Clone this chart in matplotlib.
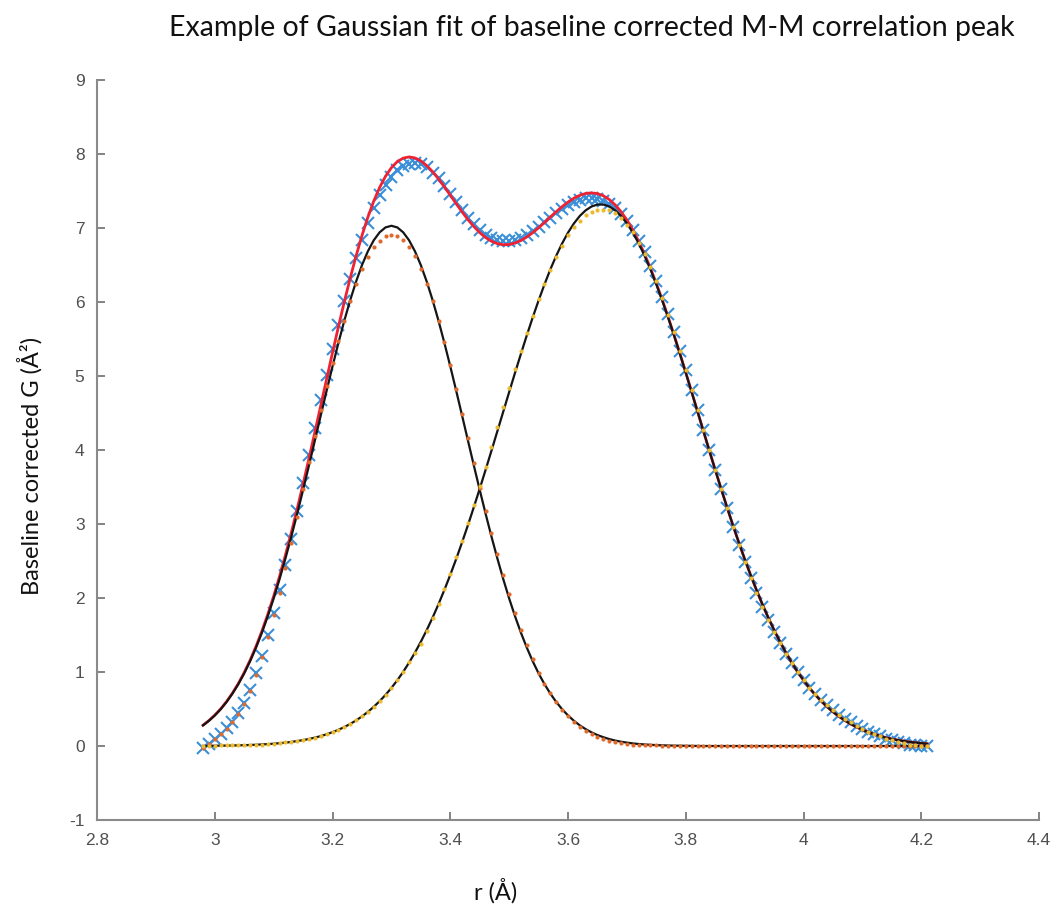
import numpy as np
import matplotlib
matplotlib.use("Agg")
import matplotlib.pyplot as plt

plt.rcParams["axes.unicode_minus"] = False

# sampling grid of the measured G(r) (step 0.01 A)
r = np.round(np.arange(2.98, 4.215, 0.01), 2)

# baseline corrected data (blue crosses)
g_data = [
    -0.03, 0.03, 0.09, 0.16, 0.24, 0.33, 0.44, 0.58, 0.76, 0.98,
    1.22, 1.50, 1.80, 2.11, 2.45, 2.80, 3.17, 3.55, 3.93, 4.30,
    4.67, 5.02, 5.36, 5.69, 6.01, 6.31, 6.59, 6.84, 7.07, 7.27,
    7.44, 7.58, 7.69, 7.78, 7.84, 7.87, 7.88, 7.86, 7.82, 7.75,
    7.67, 7.57, 7.46, 7.35, 7.24, 7.14, 7.05, 6.97, 6.91, 6.87,
    6.84, 6.83, 6.83, 6.84, 6.87, 6.91, 6.96, 7.02, 7.08, 7.14,
    7.20, 7.26, 7.31, 7.35, 7.38, 7.40, 7.40, 7.39, 7.37, 7.33,
    7.27, 7.19, 7.09, 6.97, 6.83, 6.67, 6.49, 6.29, 6.07, 5.84,
    5.59, 5.34, 5.08, 4.81, 4.54, 4.27, 4.00, 3.73, 3.47, 3.21,
    2.96, 2.72, 2.49, 2.27, 2.07, 1.88, 1.70, 1.54, 1.39, 1.25,
    1.12, 1.00, 0.89, 0.79, 0.70, 0.62, 0.55, 0.48, 0.42, 0.37,
    0.32, 0.27, 0.23, 0.19, 0.16, 0.13, 0.10, 0.08, 0.06, 0.04,
    0.02, 0.01, 0.00, 0.00,
]

# first peak points (orange dots)
g_peak1 = [
    -0.03, 0.03, 0.09, 0.16, 0.23, 0.32, 0.43, 0.57, 0.75, 0.96,
    1.20, 1.47, 1.77, 2.07, 2.40, 2.75, 3.10, 3.47, 3.84, 4.19,
    4.54, 4.86, 5.17, 5.47, 5.75, 6.01, 6.24, 6.44, 6.61, 6.74,
    6.83, 6.89, 6.91, 6.89, 6.84, 6.74, 6.62, 6.45, 6.25, 6.01,
    5.75, 5.46, 5.15, 4.82, 4.49, 4.16, 3.82, 3.49, 3.18, 2.88,
    2.59, 2.31, 2.05, 1.80, 1.57, 1.36, 1.17, 0.99, 0.84, 0.71,
    0.59, 0.49, 0.40, 0.33, 0.26, 0.20, 0.16, 0.12, 0.09, 0.07,
    0.05, 0.04, 0.03, 0.02, 0.02, 0.01, 0.01, 0.01, 0.00, 0.00,
    0.00, 0.00, 0.00, 0.00, 0.00, 0.00, 0.00, 0.00, 0.00, 0.00,
    0.00, 0.00, 0.00, 0.00, 0.00, 0.00, 0.00, 0.00, 0.00, 0.00,
    0.00, 0.00, 0.00, 0.00, 0.00, 0.00, 0.00, 0.00, 0.00, 0.00,
    0.00, 0.00, 0.00, 0.00, 0.00, 0.00, 0.00, 0.00, 0.00, 0.00,
    0.00, 0.00, 0.00, 0.00,
]

# second peak points (yellow dots)
g_peak2 = [
    0.00, 0.00, 0.00, 0.01, 0.01, 0.01, 0.01, 0.01, 0.01, 0.02,
    0.02, 0.03, 0.03, 0.04, 0.05, 0.06, 0.07, 0.08, 0.10, 0.11,
    0.13, 0.16, 0.19, 0.22, 0.26, 0.30, 0.35, 0.40, 0.46, 0.53,
    0.61, 0.69, 0.79, 0.89, 1.00, 1.13, 1.26, 1.38, 1.55, 1.73,
    1.92, 2.12, 2.33, 2.55, 2.77, 3.01, 3.26, 3.51, 3.77, 4.04,
    4.31, 4.58, 4.84, 5.09, 5.34, 5.58, 5.81, 6.04, 6.24, 6.43,
    6.61, 6.76, 6.90, 7.01, 7.10, 7.17, 7.22, 7.24, 7.25, 7.24,
    7.20, 7.13, 7.04, 6.94, 6.80, 6.65, 6.47, 6.28, 6.06, 5.83,
    5.59, 5.34, 5.08, 4.81, 4.54, 4.27, 4.00, 3.73, 3.47, 3.21,
    2.96, 2.72, 2.49, 2.27, 2.07, 1.88, 1.70, 1.54, 1.39, 1.25,
    1.12, 1.00, 0.89, 0.79, 0.70, 0.62, 0.55, 0.48, 0.42, 0.37,
    0.32, 0.27, 0.23, 0.19, 0.16, 0.13, 0.10, 0.08, 0.06, 0.04,
    0.02, 0.01, 0.00, 0.00,
]

# Gaussian fit of peak 1 (black)
fit1 = [
    0.279, 0.341, 0.413, 0.497, 0.595, 0.708, 0.836, 0.982, 1.146, 1.329,
    1.531, 1.753, 1.994, 2.255, 2.534, 2.829, 3.139, 3.461, 3.792, 4.128,
    4.467, 4.802, 5.131, 5.447, 5.747, 6.025, 6.276, 6.498, 6.685, 6.834,
    6.942, 7.008, 7.030, 7.008, 6.942, 6.834, 6.685, 6.498, 6.276, 6.025,
    5.747, 5.447, 5.131, 4.802, 4.467, 4.128, 3.792, 3.461, 3.139, 2.829,
    2.534, 2.255, 1.994, 1.753, 1.531, 1.329, 1.146, 0.982, 0.836, 0.708,
    0.595, 0.497, 0.413, 0.341, 0.279, 0.228, 0.184, 0.148, 0.119, 0.094,
    0.074, 0.058, 0.046, 0.035, 0.027, 0.021, 0.016, 0.012, 0.009, 0.007,
    0.005, 0.004, 0.003, 0.002, 0.001, 0.000, 0.000, 0.000, 0.000, 0.000,
    0.000, 0.000, 0.000, 0.000, 0.000, 0.000, 0.000, 0.000, 0.000, 0.000,
    0.000, 0.000, 0.000, 0.000, 0.000, 0.000, 0.000, 0.000, 0.000, 0.000,
    0.000, 0.000, 0.000, 0.000, 0.000, 0.000, 0.000, 0.000, 0.000, 0.000,
    0.000, 0.000, 0.000, 0.000,
]

# Gaussian fit of peak 2 (black)
fit2 = [
    0.002, 0.003, 0.004, 0.005, 0.006, 0.007, 0.009, 0.011, 0.014, 0.017,
    0.021, 0.026, 0.031, 0.038, 0.046, 0.055, 0.067, 0.080, 0.095, 0.113,
    0.134, 0.159, 0.187, 0.219, 0.256, 0.298, 0.346, 0.400, 0.461, 0.530,
    0.606, 0.691, 0.785, 0.889, 1.002, 1.127, 1.262, 1.409, 1.567, 1.736,
    1.917, 2.110, 2.313, 2.527, 2.752, 2.985, 3.228, 3.477, 3.732, 3.992,
    4.255, 4.519, 4.783, 5.044, 5.300, 5.550, 5.791, 6.021, 6.238, 6.441,
    6.626, 6.792, 6.938, 7.062, 7.163, 7.239, 7.291, 7.317, 7.317, 7.291,
    7.239, 7.163, 7.062, 6.938, 6.792, 6.626, 6.441, 6.238, 6.021, 5.791,
    5.550, 5.300, 5.044, 4.783, 4.519, 4.255, 3.992, 3.732, 3.477, 3.228,
    2.985, 2.752, 2.527, 2.313, 2.110, 1.917, 1.736, 1.567, 1.409, 1.262,
    1.127, 1.002, 0.889, 0.785, 0.691, 0.606, 0.530, 0.461, 0.400, 0.346,
    0.298, 0.256, 0.219, 0.187, 0.159, 0.134, 0.113, 0.095, 0.080, 0.067,
    0.055, 0.046, 0.038, 0.031,
]

# total fit (red)
fit_total = [
    0.281, 0.344, 0.417, 0.502, 0.601, 0.715, 0.845, 0.993, 1.160, 1.346,
    1.552, 1.779, 2.025, 2.293, 2.580, 2.884, 3.206, 3.541, 3.887, 4.241,
    4.601, 4.961, 5.318, 5.666, 6.003, 6.323, 6.622, 6.898, 7.146, 7.364,
    7.548, 7.699, 7.815, 7.897, 7.944, 7.961, 7.947, 7.907, 7.843, 7.761,
    7.664, 7.557, 7.444, 7.329, 7.219, 7.113, 7.020, 6.938, 6.871, 6.821,
    6.789, 6.774, 6.777, 6.797, 6.831, 6.879, 6.937, 7.003, 7.074, 7.149,
    7.221, 7.289, 7.351, 7.403, 7.442, 7.467, 7.475, 7.465, 7.436, 7.385,
    7.313, 7.221, 7.108, 6.973, 6.819, 6.647, 6.457, 6.250, 6.030, 5.798,
    5.555, 5.304, 5.047, 4.785, 4.520, 4.255, 3.992, 3.732, 3.477, 3.228,
    2.985, 2.752, 2.527, 2.313, 2.110, 1.917, 1.736, 1.567, 1.409, 1.262,
    1.127, 1.002, 0.889, 0.785, 0.691, 0.606, 0.530, 0.461, 0.400, 0.346,
    0.298, 0.256, 0.219, 0.187, 0.159, 0.134, 0.113, 0.095, 0.080, 0.067,
    0.055, 0.046, 0.038, 0.031,
]

x_ticks = [2.8, 3, 3.2, 3.4, 3.6, 3.8, 4, 4.2, 4.4]
x_tick_labels = ["2.8", "3", "3.2", "3.4", "3.6", "3.8", "4", "4.2", "4.4"]
y_ticks = list(range(-1, 10))

label_font = ["Lato", "DejaVu Sans"]
tick_font = ["Liberation Sans", "DejaVu Sans"]

fig = plt.figure(figsize=(10.57, 9.05), dpi=100)
ax = fig.add_axes([0.0918, 0.0939, 0.8912, 0.8177])

ax.plot(r, g_data, linestyle="none", marker="x", markersize=8, mew=1.5,
        color="#3a8fd8", zorder=2)
ax.plot(r, fit_total, color="#ee2233", lw=2.0, zorder=3)
ax.plot(r, fit1, color="#151515", lw=1.6, zorder=4)
ax.plot(r, fit2, color="#151515", lw=1.6, zorder=4)
ax.plot(r, g_peak1, linestyle="none", marker="o", markersize=3, mew=0,
        color="#e06a2c", zorder=5)
ax.plot(r, g_peak2, linestyle="none", marker="o", markersize=3, mew=0,
        color="#ecba2e", zorder=5)

ax.set_xlim(2.8, 4.4)
ax.set_ylim(-1, 9)
ax.set_xticks(x_ticks)
ax.set_xticklabels(x_tick_labels)
ax.set_yticks(y_ticks)

for side in ["top", "right"]:
    ax.spines[side].set_visible(False)
for side in ["left", "bottom"]:
    ax.spines[side].set_color("#8a8a8a")
    ax.spines[side].set_linewidth(1.5)
ax.tick_params(direction="in", length=6, width=1.3, color="#7a7a7a",
               labelcolor="#505050", labelsize=12.5, pad=9)
for lab in ax.get_xticklabels() + ax.get_yticklabels():
    lab.set_family(tick_font)

ax.set_xlabel("r (Å)", fontsize=17, family=label_font, color="#111111",
              va="center", ha="center")
ax.xaxis.set_label_coords(0.4236, -0.096)
ax.set_ylabel("Baseline corrected G (Å²)", fontsize=17, family=label_font,
              color="#111111", va="center", ha="center")
ax.yaxis.set_label_coords(-0.071, 0.478)

fig.text(0.56, 0.969, "Example of Gaussian fit of baseline corrected M-M correlation peak",
         ha="center", va="center", fontsize=20.5, family=label_font, color="#111111")

fig.savefig("out.png", dpi=100)
